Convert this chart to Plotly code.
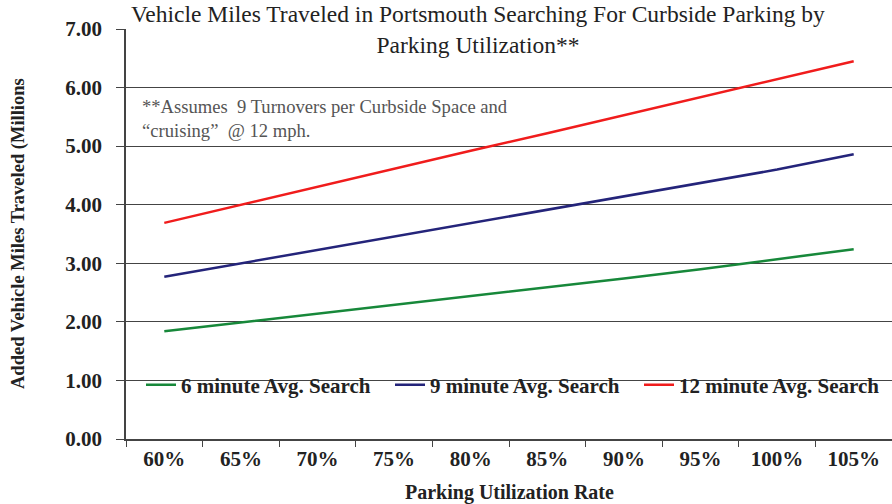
import plotly.graph_objects as go

categories = ["60%", "65%", "70%", "75%", "80%", "85%", "90%", "95%", "100%", "105%"]
six_min = [1.84, 1.99, 2.14, 2.28, 2.43, 2.58, 2.74, 2.90, 3.07, 3.24]
nine_min = [2.77, 3.00, 3.22, 3.45, 3.68, 3.91, 4.14, 4.37, 4.60, 4.86]
twelve_min = [3.69, 4.00, 4.30, 4.61, 4.92, 5.22, 5.53, 5.84, 6.14, 6.45]
y_ticks = [0, 1, 2, 3, 4, 5, 6, 7]
y_tick_labels = ["0.00", "1.00", "2.00", "3.00", "4.00", "5.00", "6.00", "7.00"]

serif = "Liberation Serif, Times New Roman, serif"
PL, PT, PW, PH = 126, 29, 766, 410

fig = go.Figure()
series = [
    ("6 minute Avg. Search", six_min, "#17883a", "legend", 141),
    ("9 minute Avg. Search", nine_min, "#24247a", "legend2", 390),
    ("12 minute Avg. Search", twelve_min, "#f01c1c", "legend3", 639),
]
legend_layout = {}
for name, vals, col, lg, lx in series:
    fig.add_trace(go.Scatter(x=categories, y=vals, mode="lines", name=name, legend=lg,
                             line=dict(color=col, width=2.5)))
    legend_layout[lg] = dict(orientation="h", x=(lx - PL) / PW, y=(439 - 385) / PH,
                             xanchor="left", yanchor="middle",
                             font=dict(family=serif, size=21, color="#222", weight="bold"),
                             bgcolor="rgba(0,0,0,0)", itemwidth=30)

fig.update_layout(
    width=892, height=504,
    margin=dict(l=PL, r=0, t=PT, b=504 - PT - PH),
    plot_bgcolor="white", paper_bgcolor="white",
    font=dict(family=serif, color="#222"),
    showlegend=True,
    xaxis=dict(type="category", tickson="boundaries", ticks="outside", ticklen=6,
               tickcolor="#444", showline=True, linecolor="#444", linewidth=1.5,
               showgrid=False, range=[-0.5, 9.5], automargin=False,
               tickfont=dict(family=serif, size=21, color="#222", weight="bold")),
    yaxis=dict(range=[0, 7], tickvals=y_ticks, ticktext=y_tick_labels,
               ticks="outside", ticklen=8, tickcolor="#444", automargin=False,
               showline=True, linecolor="#444", linewidth=1.5, ticklabelstandoff=10,
               showgrid=True, gridcolor="#444", gridwidth=1, zeroline=False,
               tickfont=dict(family=serif, size=21, color="#222", weight="bold")),
    **legend_layout,
)

# chart title
fig.add_annotation(xref="paper", yref="paper", x=(478 - PL) / PW, y=1.0,
                   xanchor="center", yanchor="middle",
                   text="Vehicle Miles Traveled in Portsmouth Searching For Curbside Parking by<br>Parking Utilization**",
                   showarrow=False, align="center",
                   font=dict(family=serif, size=23.5, color="#222"))
# assumption note
fig.add_annotation(xref="paper", yref="paper", x=(140 - PL) / PW, y=(439 - 119) / PH,
                   xanchor="left", yanchor="middle",
                   text="**Assumes  9 Turnovers per Curbside Space and<br>“cruising”  @ 12 mph.",
                   showarrow=False, align="left",
                   font=dict(family=serif, size=18.6, color="#555"))
# axis titles
fig.add_annotation(xref="paper", yref="paper", x=(18 - PL) / PW, y=0.5,
                   xanchor="center", yanchor="middle", textangle=-90,
                   text="Added Vehicle Miles Traveled (Millions", showarrow=False,
                   font=dict(family=serif, size=18.5, color="#222", weight="bold"))
fig.add_annotation(xref="paper", yref="paper", x=0.5, y=-(492 - 439) / PH,
                   xanchor="center", yanchor="middle",
                   text="Parking Utilization Rate", showarrow=False,
                   font=dict(family=serif, size=20, color="#222", weight="bold"))

fig.write_html("out.html", config={"displayModeBar": False},
               post_script="document.body.style.margin='0';document.body.style.overflow='hidden';")
